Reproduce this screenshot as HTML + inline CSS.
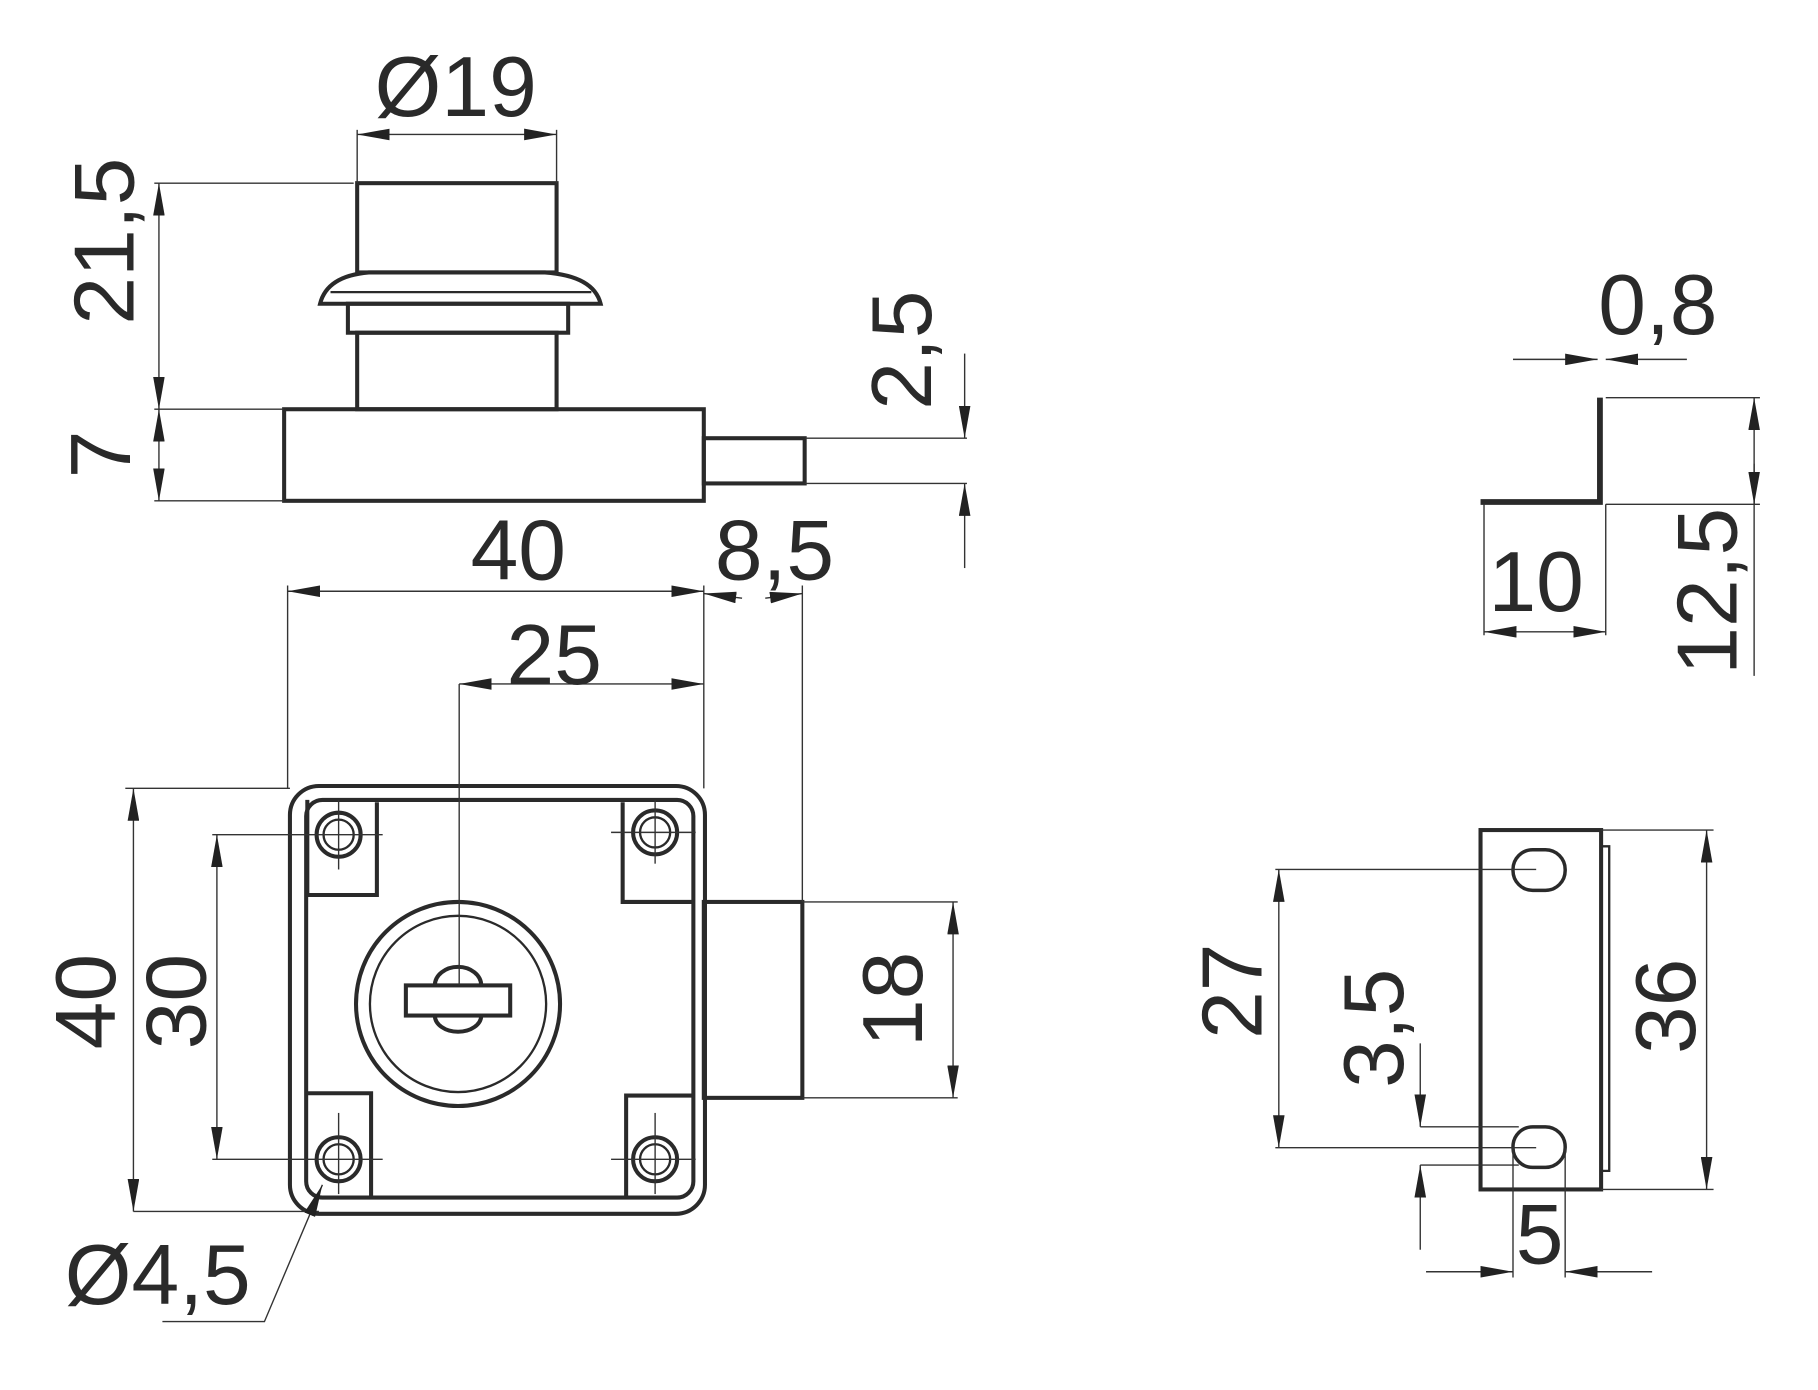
<!DOCTYPE html>
<html><head><meta charset="utf-8"><style>html,body{margin:0;padding:0;background:#fff}svg{display:block}</style></head>
<body>
<svg width="1818" height="1390" viewBox="0 0 1568 1199" xmlns="http://www.w3.org/2000/svg">
<defs>
<marker id="a" viewBox="0 0 28 10" refX="28" refY="5" markerWidth="28" markerHeight="10" markerUnits="userSpaceOnUse" orient="auto-start-reverse"><path d="M0,0 L28,5 L0,10 Z" fill="#222"/></marker>
</defs>
<rect width="1568" height="1199" fill="#fff"/>
<g fill="none" stroke="#2a2a2a" stroke-width="3.5">
<rect x="308" y="158" width="172" height="77"/>
<path d="M276,262 Q282,238 318,235 L470,235 Q512,238 518,262 Z"/>
<line x1="285" y1="252" x2="510" y2="252" stroke-width="2"/>
<rect x="300" y="262" width="190" height="25"/>
<rect x="308" y="287" width="172" height="66"/>
<rect x="245" y="353" width="362" height="79"/>
<rect x="607" y="378" width="87" height="39"/>
<rect x="250" y="678" width="358" height="369" rx="25"/>
<rect x="264" y="690" width="334" height="343" rx="14"/>
<path d="M265,690 V772 H325 V692"/>
<path d="M537,692 V778 H598"/>
<path d="M265,943 H320 V1033"/>
<path d="M540,1033 V945 H598"/>
<circle cx="292" cy="720" r="19"/><circle cx="292" cy="720" r="13" stroke-width="2"/>
<circle cx="565" cy="718" r="19"/><circle cx="565" cy="718" r="13" stroke-width="2"/>
<circle cx="292" cy="1000" r="19"/><circle cx="292" cy="1000" r="13" stroke-width="2"/>
<circle cx="565" cy="1000" r="19"/><circle cx="565" cy="1000" r="13" stroke-width="2"/>
<circle cx="395" cy="866" r="88"/>
<circle cx="395" cy="866" r="76" stroke-width="2"/>
<path d="M375,850 A20,16 0 0 1 415,850"/>
<path d="M375,876 A20,14 0 0 0 415,876"/>
<rect x="350" y="850" width="90" height="26" fill="#fff"/>
<rect x="607" y="778" width="85" height="169"/>
<path d="M1277,433 H1380 V343" stroke-width="5"/>
<rect x="1277" y="716" width="104" height="310"/>
<path d="M1381,730 H1388 V1010 H1381" stroke-width="2"/>
<rect x="1305" y="733" width="45" height="35" rx="17" stroke-width="3"/>
<rect x="1305" y="972" width="45" height="35" rx="17" stroke-width="3"/>
</g>
<g fill="none" stroke="#333" stroke-width="1.2">
<line x1="308" y1="112" x2="308" y2="158"/><line x1="480" y1="112" x2="480" y2="158"/>
<line x1="308" y1="116" x2="480" y2="116" marker-start="url(#a)" marker-end="url(#a)"/>
<line x1="133" y1="158" x2="305" y2="158"/>
<line x1="137" y1="158" x2="137" y2="353" marker-start="url(#a)" marker-end="url(#a)"/>
<line x1="133" y1="353" x2="245" y2="353"/><line x1="133" y1="432" x2="245" y2="432"/>
<line x1="137" y1="353" x2="137" y2="432" marker-start="url(#a)" marker-end="url(#a)"/>
<line x1="694" y1="378" x2="834" y2="378"/><line x1="694" y1="417" x2="834" y2="417"/>
<line x1="832" y1="305" x2="832" y2="378" marker-end="url(#a)"/>
<line x1="832" y1="490" x2="832" y2="417" marker-end="url(#a)"/>
<line x1="248" y1="505" x2="248" y2="680"/><line x1="607" y1="505" x2="607" y2="680"/>
<line x1="248" y1="510" x2="607" y2="510" marker-start="url(#a)" marker-end="url(#a)"/>
<line x1="692" y1="505" x2="692" y2="778"/>
<line x1="607" y1="512" x2="640" y2="516" marker-start="url(#a)"/>
<line x1="660" y1="516" x2="692" y2="512" marker-end="url(#a)"/>
<line x1="396" y1="590" x2="607" y2="590" marker-start="url(#a)" marker-end="url(#a)"/>
<line x1="396" y1="590" x2="396" y2="850"/>
<line x1="108" y1="680" x2="250" y2="680"/><line x1="115" y1="1045" x2="275" y2="1045"/>
<line x1="115" y1="680" x2="115" y2="1045" marker-start="url(#a)" marker-end="url(#a)"/>
<line x1="183" y1="720" x2="330" y2="720"/><line x1="183" y1="1000" x2="330" y2="1000"/>
<line x1="527" y1="718" x2="600" y2="718"/><line x1="527" y1="1000" x2="600" y2="1000"/>
<line x1="292" y1="690" x2="292" y2="750"/><line x1="565" y1="690" x2="565" y2="745"/>
<line x1="292" y1="960" x2="292" y2="1030"/><line x1="565" y1="960" x2="565" y2="1030"/>
<line x1="187" y1="720" x2="187" y2="1000" marker-start="url(#a)" marker-end="url(#a)"/>
<line x1="692" y1="778" x2="826" y2="778"/><line x1="692" y1="947" x2="826" y2="947"/>
<line x1="822" y1="778" x2="822" y2="947" marker-start="url(#a)" marker-end="url(#a)"/>
<polyline points="140,1140 228,1140 278,1022" marker-end="url(#a)"/>
<line x1="1305" y1="310" x2="1378" y2="310" marker-end="url(#a)"/>
<line x1="1455" y1="310" x2="1385" y2="310" marker-end="url(#a)"/>
<line x1="1385" y1="343" x2="1518" y2="343"/><line x1="1385" y1="435" x2="1518" y2="435"/>
<line x1="1513" y1="343" x2="1513" y2="583" marker-start="url(#a)"/>
<line x1="1513" y1="400" x2="1513" y2="435" marker-end="url(#a)"/>
<line x1="1280" y1="435" x2="1280" y2="548"/><line x1="1385" y1="435" x2="1385" y2="548"/>
<line x1="1280" y1="545" x2="1385" y2="545" marker-start="url(#a)" marker-end="url(#a)"/>
<line x1="1381" y1="716" x2="1478" y2="716"/><line x1="1381" y1="1026" x2="1478" y2="1026"/>
<line x1="1472" y1="716" x2="1472" y2="1026" marker-start="url(#a)" marker-end="url(#a)"/>
<line x1="1100" y1="750" x2="1325" y2="750"/><line x1="1100" y1="990" x2="1325" y2="990"/>
<line x1="1103" y1="750" x2="1103" y2="990" marker-start="url(#a)" marker-end="url(#a)"/>
<line x1="1225" y1="972" x2="1310" y2="972"/><line x1="1225" y1="1005" x2="1310" y2="1005"/>
<line x1="1225" y1="900" x2="1225" y2="972" marker-end="url(#a)"/>
<line x1="1225" y1="1078" x2="1225" y2="1005" marker-end="url(#a)"/>
<line x1="1305" y1="990" x2="1305" y2="1102"/><line x1="1350" y1="990" x2="1350" y2="1102"/>
<line x1="1230" y1="1097" x2="1305" y2="1097" marker-end="url(#a)"/>
<line x1="1425" y1="1097" x2="1350" y2="1097" marker-end="url(#a)"/>
</g>
<g font-family="Liberation Sans, sans-serif" font-size="74" fill="#2a2a2a" text-anchor="middle">
<text x="393" y="100">Ø19</text>
<text x="447" y="500">40</text>
<text x="668" y="500">8,5</text>
<text x="478" y="590">25</text>
<text x="136" y="1125">Ø4,5</text>
<text x="1430" y="288">0,8</text>
<text x="1325" y="527">10</text>
<text x="1328" y="1090">5</text>
<text transform="translate(115,208) rotate(-90)">21,5</text>
<text transform="translate(112,392) rotate(-90)">7</text>
<text transform="translate(803,302) rotate(-90)">2,5</text>
<text transform="translate(99,864) rotate(-90)">40</text>
<text transform="translate(177,864) rotate(-90)">30</text>
<text transform="translate(795,862) rotate(-90)">18</text>
<text transform="translate(1498,510) rotate(-90)">12,5</text>
<text transform="translate(1088,855) rotate(-90)">27</text>
<text transform="translate(1210,887) rotate(-90)">3,5</text>
<text transform="translate(1462,868) rotate(-90)">36</text>
</g>
</svg>
</body></html>
